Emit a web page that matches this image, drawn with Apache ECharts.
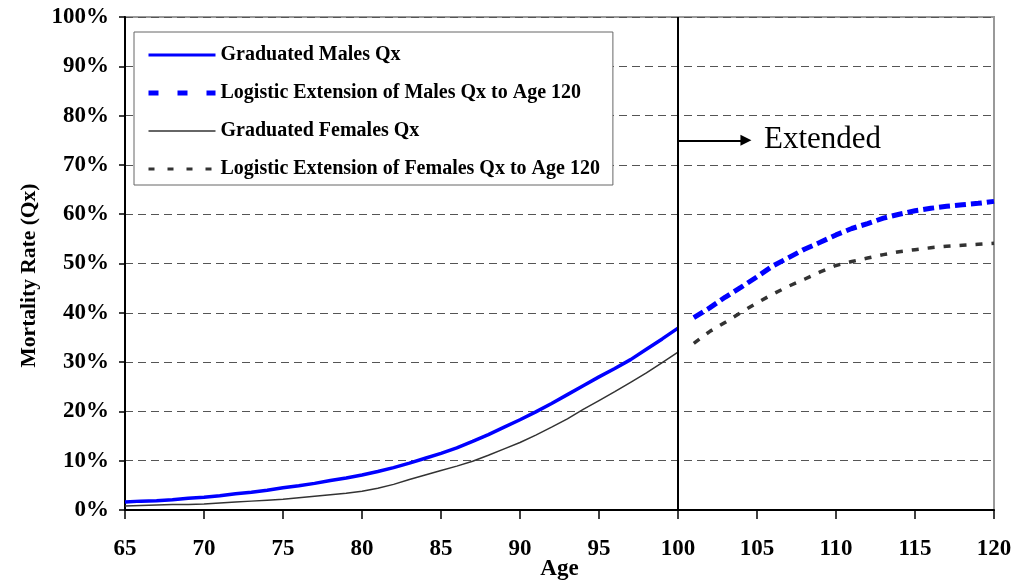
<!DOCTYPE html>
<html><head><meta charset="utf-8">
<script src="https://cdn.jsdelivr.net/npm/echarts@6/dist/echarts.min.js"></script>
<style>html,body{margin:0;padding:0;background:#fff}#c{width:1016px;height:582px}</style>
</head><body><div id="c"></div>
<script>
// ---- data ----
const gradAges = [65,66,67,68,69,70,71,72,73,74,75,76,77,78,79,80,81,82,83,84,85,86,87,88,89,90,91,92,93,94,95,96,97,98,99,100];
const malesQx = [1.6,1.8,1.9,2.1,2.4,2.6,2.9,3.3,3.6,4.0,4.5,4.9,5.4,6.0,6.5,7.1,7.8,8.6,9.5,10.5,11.5,12.6,13.9,15.3,16.8,18.3,19.9,21.6,23.4,25.2,27.0,28.7,30.5,32.6,34.7,36.9];
const femalesQx = [0.8,0.9,1.0,1.1,1.1,1.2,1.4,1.6,1.8,2.0,2.2,2.5,2.8,3.1,3.4,3.8,4.4,5.2,6.2,7.1,8.0,8.9,9.9,11.1,12.4,13.7,15.2,16.8,18.5,20.4,22.2,24.0,25.9,27.8,29.9,32.0];
const extAges = [101,102,103,104,105,106,107,108,109,110,111,112,113,114,115,116,117,118,119,120];
const malesExtQx = [39.0,41.0,43.2,45.2,47.3,49.5,51.2,52.9,54.3,55.8,57.1,58.1,59.2,60.0,60.7,61.2,61.6,61.9,62.2,62.6];
const femalesExtQx = [33.8,36.2,38.1,40.1,42.0,43.8,45.4,46.8,48.3,49.6,50.4,51.1,51.8,52.4,52.8,53.2,53.5,53.7,53.9,54.1];
const seriesNames = ['Graduated Males Qx','Logistic Extension of Males Qx to Age 120','Graduated Females Qx','Logistic Extension of Females Qx to Age 120'];
const cutoffAge = 100;
const arrowFromAge = 100, arrowToAge = 104.3, arrowLevel = 75;
const annotationText = 'Extended';
const xName = 'Age', yName = 'Mortality Rate (Qx)';

const pairs = (xs, ys) => xs.map((x, i) => [x, ys[i]]);
const serif = '"Liberation Serif","Times New Roman",serif';
const BLUE = '#0000ff', DARK = '#333';

const chart = echarts.init(document.getElementById('c'), null, {renderer: 'canvas'});
chart.setOption({
  animation: false,
  backgroundColor: '#fff',
  grid: {left: 125, right: 22, top: 17, bottom: 72, containLabel: false, outerBoundsMode: 'none',
         show: true, borderColor: '#999', borderWidth: 2, backgroundColor: 'transparent'},
  legend: {
    orient: 'vertical', left: 134, top: 32,
    padding: [13, 13, 6, 12],
    itemWidth: 67, itemHeight: 20, itemGap: 18,
    backgroundColor: '#fff', borderColor: '#666', borderWidth: 1,
    selectedMode: false,
    itemStyle: {opacity: 0},
    textStyle: {fontFamily: serif, fontWeight: 'bold', fontSize: 20, color: '#000', lineHeight: 20},
    data: [
      {name: seriesNames[0], lineStyle: {color: BLUE, width: 3, type: 'solid', opacity: 1}},
      {name: seriesNames[1], lineStyle: {color: BLUE, width: 5, type: [10, 19], opacity: 1}},
      {name: seriesNames[2], lineStyle: {color: DARK, width: 1.5, type: 'solid', opacity: 1}},
      {name: seriesNames[3], lineStyle: {color: DARK, width: 3, type: [6, 13], opacity: 1}}
    ]
  },
  xAxis: {
    type: 'value', min: 65, max: 120, interval: 5,
    name: xName, nameLocation: 'middle', nameGap: 48, nameMoveOverlap: false,
    nameTextStyle: {fontFamily: serif, fontWeight: 'bold', fontSize: 23, color: '#000'},
    axisLine: {lineStyle: {color: '#000', width: 2}},
    axisTick: {show: true, length: 9, lineStyle: {color: '#000', width: 1.5}},
    axisLabel: {margin: 28, fontFamily: serif, fontWeight: 'bold', fontSize: 23, color: '#000'},
    splitLine: {show: false}
  },
  yAxis: {
    type: 'value', min: 0, max: 100, interval: 10,
    name: yName, nameLocation: 'middle', nameGap: 85, nameMoveOverlap: false,
    nameTextStyle: {fontFamily: serif, fontWeight: 'bold', fontSize: 21.5, color: '#000', padding: [0, 24, 0, 0]},
    axisLine: {show: true, lineStyle: {color: '#000', width: 2}},
    axisTick: {show: true, length: 6, lineStyle: {color: '#000', width: 1.5}},
    axisLabel: {margin: 16, formatter: '{value}%', fontFamily: serif, fontWeight: 'bold', fontSize: 23, color: '#000'},
    splitLine: {show: true, lineStyle: {color: '#555', width: 1, type: [8, 5]}}
  },
  series: [
    {name: seriesNames[2], type: 'line', data: pairs(gradAges, femalesQx), symbol: 'none', z: 3,
     lineStyle: {color: DARK, width: 1.5}, itemStyle: {color: DARK}},
    {name: seriesNames[3], type: 'line', data: pairs(extAges, femalesExtQx), symbol: 'none', z: 3,
     lineStyle: {color: DARK, width: 3.5, type: [7, 9]}, itemStyle: {color: DARK}},
    {name: seriesNames[0], type: 'line', data: pairs(gradAges, malesQx), symbol: 'none', z: 4,
     lineStyle: {color: BLUE, width: 3.5}, itemStyle: {color: BLUE}},
    {name: seriesNames[1], type: 'line', data: pairs(extAges, malesExtQx), symbol: 'none', z: 4,
     lineStyle: {color: BLUE, width: 5, type: [11, 5]}, itemStyle: {color: BLUE},
     markLine: {
       silent: true, animation: false, symbol: ['none', 'none'],
       data: [
         [{coord: [cutoffAge, 0], lineStyle: {color: '#000', width: 2, type: 'solid'}, label: {show: false}},
          {coord: [cutoffAge, 100]}],
         [{coord: [arrowFromAge, arrowLevel], symbol: 'none', lineStyle: {color: '#000', width: 2, type: 'solid'},
           label: {show: true, position: 'end', distance: 18, formatter: annotationText, fontFamily: serif, fontSize: 31, color: '#000'}},
          {coord: [arrowToAge, arrowLevel], symbol: 'triangle', symbolSize: [11, 11]}]
       ]
     }}
  ]
});
</script></body></html>
